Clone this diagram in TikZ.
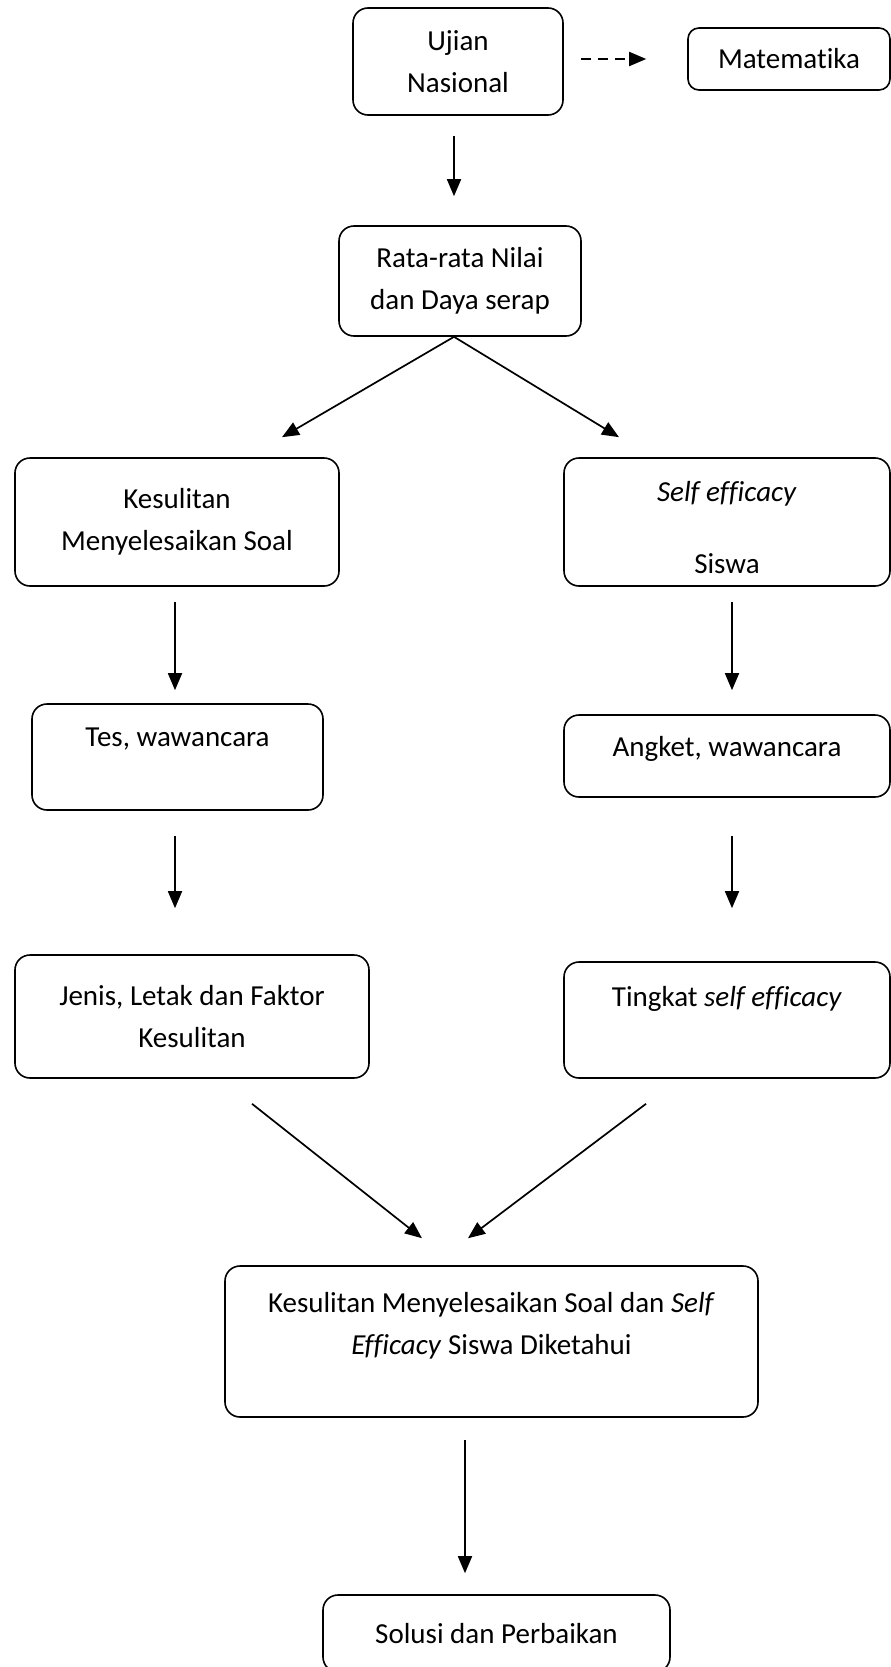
\documentclass[tikz,border=0pt]{standalone}
\usepackage{fontspec}
\setmainfont{Carlito}[Ligatures=NoCommon]
\usepackage{tikz}
\usetikzlibrary{arrows.meta}

\begin{document}
\begin{tikzpicture}
  [
    x=1pt, y=-1pt,
    Box/.style={rectangle, rounded corners=15pt, draw=black, line width=1.6pt, align=center,
      inner sep=4pt, font=\fontsize{29pt}{41.5pt}\selectfont},
    Arrow/.style={line width=1.7pt, -{Triangle[length=17pt, width=14pt]}},
    Dash/.style={Arrow, dash pattern=on 10pt off 7pt}
  ]
  \useasboundingbox (0,0) rectangle (891,1667);
  % Nodes
  \node[Box, minimum width=210pt, minimum height=107pt] (un) at(458, 61.5) {Ujian\\Nasional};
  \node[Box, rounded corners=11pt, minimum width=202pt, minimum height=62pt] (mat) at(789, 59) {Matematika};
  \node[Box, minimum width=242pt, minimum height=110pt] (rata) at(460, 281) {Rata-rata Nilai\\dan Daya serap};
  \node[Box, minimum width=324pt, minimum height=128pt] (kes) at(177, 522) {Kesulitan\\Menyelesaikan Soal};
  \node[Box, minimum width=326pt, minimum height=128pt, text height=103pt] (self) at(727, 522) {\textit{Self efficacy}\\[30pt]Siswa};
  \node[Box, minimum width=291pt, minimum height=106pt, text depth=40pt] (tes) at(177.5, 757) {Tes, wawancara};
  \node[Box, minimum width=326pt, minimum height=82pt, text depth=20pt] (ang) at(727, 756) {Angket, wawancara};
  \node[Box, minimum width=354pt, minimum height=123pt] (jenis) at(192, 1016.5) {Jenis, Letak dan Faktor\\Kesulitan};
  \node[Box, minimum width=326pt, minimum height=116pt, text depth=48pt] (tingkat) at(727, 1020) {Tingkat \textit{self efficacy}};
  \node[Box, minimum width=533pt, minimum height=151pt, text depth=36pt] (tahu) at(491.5, 1341.5) {Kesulitan Menyelesaikan Soal dan \textit{Self}\\\textit{Efficacy} Siswa Diketahui};
  \node[Box, minimum width=347pt, minimum height=77pt] (solusi) at(496.5, 1633.5) {Solusi dan Perbaikan};

  % Lines
  \path [Dash, draw, shorten <=17pt, shorten >=41pt] (un.east |- mat.west) -- (mat.west);
  \path [Arrow, draw] ([xshift=-4pt, yshift=-20pt]un.south) -- ([xshift=-6pt, yshift=29pt]rata.north);
  \path [Arrow, draw] ([xshift=-6pt]rata.south) -- ([xshift=105pt, yshift=20pt]kes.north);
  \path [Arrow, draw] ([xshift=-6pt]rata.south) -- ([xshift=-108pt, yshift=20pt]self.north);
  \path [Arrow, draw] ([xshift=-2pt, yshift=-15pt]kes.south) -- ([xshift=-2.5pt, yshift=13pt]tes.north);
  \path [Arrow, draw] ([xshift=5pt, yshift=-15pt]self.south) -- ([xshift=5pt, yshift=24pt]ang.north);
  \path [Arrow, draw] ([xshift=-2.5pt, yshift=-25pt]tes.south) -- ([xshift=-17pt, yshift=46pt]jenis.north);
  \path [Arrow, draw] ([xshift=5pt, yshift=-38pt]ang.south) -- ([xshift=5pt, yshift=53pt]tingkat.north);
  \path [Arrow, draw] ([xshift=60pt, yshift=-25pt]jenis.south) -- ([xshift=-69.5pt, yshift=27pt]tahu.north);
  \path [Arrow, draw] ([xshift=-81pt, yshift=-25pt]tingkat.south) -- ([xshift=-23.5pt, yshift=27pt]tahu.north);
  \path [Arrow, draw] ([xshift=-26.5pt, yshift=-22pt]tahu.south) -- ([xshift=-31.5pt, yshift=21pt]solusi.north);

\end{tikzpicture}
\end{document}
